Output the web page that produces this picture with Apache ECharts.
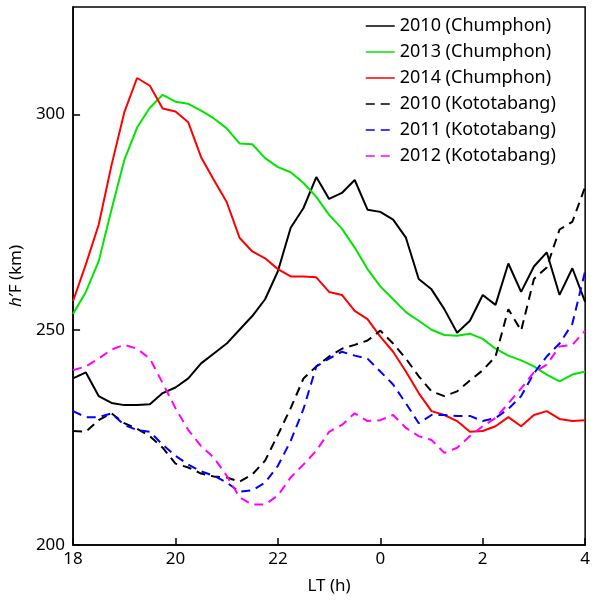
<!DOCTYPE html>
<html>
<head>
<meta charset="utf-8">
<script src="https://cdn.jsdelivr.net/npm/echarts@6/dist/echarts.min.js"></script>
<style>
  html, body { margin: 0; padding: 0; background: #fff; }
  #main { width: 593px; height: 600px; }
</style>
</head>
<body>
<div id="main"></div>
<script>
// local time in hours (values past 24 are after midnight)
var lt = [18, 18.25, 18.5, 18.75, 19, 19.25, 19.5, 19.75, 20, 20.25, 20.5, 20.75,
  21, 21.25, 21.5, 21.75, 22, 22.25, 22.5, 22.75, 23, 23.25, 23.5, 23.75,
  24, 24.25, 24.5, 24.75, 25, 25.25, 25.5, 25.75, 26, 26.25, 26.5, 26.75,
  27, 27.25, 27.5, 27.75, 28];

var chum2010 = [238.7, 240.1, 234.6, 233.0, 232.5, 232.5, 232.7, 235.3, 236.6, 238.7,
  242.2, 244.5, 246.8, 250.0, 253.2, 257.1, 263.6, 273.7, 278.3, 285.5, 280.4, 281.8,
  284.8, 277.9, 277.4, 275.6, 271.4, 261.8, 259.4, 254.8, 249.3, 252.1, 258.1, 255.8,
  265.4, 258.8, 264.7, 268.0, 258.1, 264.3, 256.5];

var chum2013 = [253.7, 258.8, 265.9, 277.9, 289.4, 297.0, 301.6, 304.6, 303.0, 302.5,
  300.9, 299.1, 296.8, 293.3, 293.1, 289.9, 287.8, 286.6, 284.1, 280.9, 276.7, 273.5,
  269.1, 264.1, 260.1, 257.1, 254.1, 252.1, 250.0, 248.8, 248.6, 249.1, 247.9, 245.6,
  244.0, 242.9, 241.5, 239.6, 238.0, 239.6, 240.3];

var chum2014 = [256.7, 265.2, 274.4, 288.2, 300.5, 308.5, 306.7, 301.4, 300.7, 298.2,
  290.1, 284.8, 279.7, 271.4, 268.2, 266.6, 264.1, 262.4, 262.4, 262.2, 258.8, 258.1,
  254.4, 252.5, 248.4, 244.9, 240.3, 235.3, 231.1, 230.2, 228.8, 226.3, 226.5, 227.6,
  229.7, 227.6, 230.2, 231.1, 229.3, 228.8, 229.0];

var koto2010 = [226.5, 226.3, 229.0, 230.6, 228.3, 227.0, 225.3, 222.6, 218.9, 218.0,
  216.6, 215.9, 215.7, 214.7, 216.4, 219.6, 225.6, 231.8, 238.7, 241.5, 243.8, 245.6,
  246.5, 247.5, 249.8, 246.8, 243.3, 239.2, 235.7, 234.6, 235.7, 238.2, 240.6, 243.8,
  254.8, 249.8, 261.8, 264.5, 273.3, 275.1, 283.2];

var koto2011 = [231.1, 229.7, 229.7, 230.6, 227.9, 226.7, 226.3, 223.3, 220.7, 218.7,
  217.1, 216.1, 214.5, 212.4, 212.7, 214.5, 218.4, 224.2, 231.6, 241.5, 243.3, 244.9,
  244.0, 243.3, 240.3, 237.3, 232.9, 228.3, 230.2, 230.2, 230.0, 230.0, 228.8, 229.5,
  231.6, 234.6, 239.9, 243.8, 246.8, 251.4, 263.6];

var koto2012 = [240.6, 241.5, 243.3, 245.4, 246.5, 245.6, 243.3, 237.6, 231.8, 226.7,
  223.0, 220.3, 216.1, 211.1, 209.4, 209.4, 211.5, 215.7, 218.7, 221.9, 226.3, 227.9,
  230.6, 228.8, 229.0, 230.2, 227.2, 225.3, 224.4, 221.4, 222.6, 225.3, 227.6, 229.5,
  232.9, 236.4, 240.1, 241.9, 246.1, 246.5, 249.8];

var seriesNames = ['2010 (Chumphon)', '2013 (Chumphon)', '2014 (Chumphon)',
  '2010 (Kototabang)', '2011 (Kototabang)', '2012 (Kototabang)'];
var seriesData = [chum2010, chum2013, chum2014, koto2010, koto2011, koto2012];
var colors = ['#000000', '#00e600', '#ff0000', '#000000', '#0000ff', '#ff00ff'];
var dashed = [false, false, false, true, true, true];

var font = 'Noto Sans';

function pairs(ys) {
  return ys.map(function (y, i) { return [lt[i], y]; });
}

var series = seriesData.map(function (d, i) {
  return {
    name: seriesNames[i],
    type: 'line',
    data: pairs(d),
    showSymbol: false,
    symbol: 'none',
    lineStyle: {
      color: colors[i],
      width: 2,
      type: dashed[i] ? [9, 6] : 'solid'
    },
    itemStyle: { color: colors[i] }
  };
});

var myChart = echarts.init(document.getElementById('main'));
myChart.setOption({
  animation: false,
  grid: {
    left: 71, right: 3, top: 7, bottom: 52,
    show: true, borderColor: '#000', borderWidth: 1.5
  },
  legend: {
    orient: 'vertical',
    left: 360, top: 12,
    itemWidth: 29, itemHeight: 14, itemGap: 8,
    itemStyle: { opacity: 0 },
    lineStyle: { width: 1.5 },
    textStyle: { fontFamily: font, fontSize: 18, color: '#000' },
    data: seriesNames
  },
  xAxis: {
    type: 'value',
    min: 18, max: 28, interval: 2,
    name: 'LT (h)', nameLocation: 'middle', nameGap: 33,
    nameTextStyle: { fontFamily: font, fontSize: 17, color: '#000' },
    axisLine: { show: true, lineStyle: { color: '#000', width: 1.5 } },
    axisTick: { show: true, inside: true, length: 7, lineStyle: { color: '#000', width: 1.5 } },
    axisLabel: {
      fontFamily: font, fontSize: 17, color: '#000', margin: 6,
      formatter: function (v) { return String(v % 24); }
    },
    splitLine: { show: false }
  },
  yAxis: {
    type: 'value',
    min: 200, max: 325, interval: 50,
    name: '{i|h}′F (km)', nameLocation: 'middle', nameGap: 43,
    nameTextStyle: {
      fontFamily: font, fontSize: 17, color: '#000',
      rich: { i: { fontFamily: font, fontSize: 17, fontStyle: 'italic', color: '#000' } }
    },
    axisLine: { show: true, lineStyle: { color: '#000', width: 1.5 } },
    axisTick: { show: true, inside: true, length: 7, lineStyle: { color: '#000', width: 1.5 } },
    axisLabel: {
      fontFamily: font, fontSize: 17, color: '#000', margin: 8,
      showMaxLabel: false,
      formatter: function (v) { return v % 50 === 0 ? String(v) : ''; }
    },
    splitLine: { show: false }
  },
  series: series
});
</script>
</body>
</html>
